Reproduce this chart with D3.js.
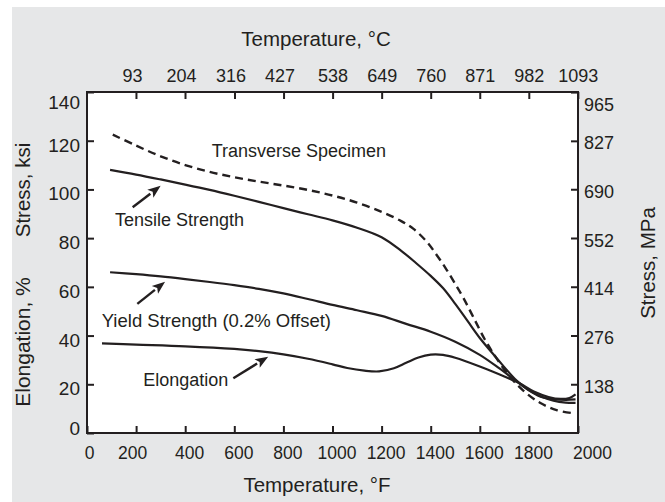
<!DOCTYPE html>
<html>
<head>
<meta charset="utf-8">
<script src="https://cdn.jsdelivr.net/npm/d3@7"></script>
<style>
  html, body { margin: 0; padding: 0; background: #ffffff; }
  svg { display: block; }
  text { font-family: "Liberation Sans", Arial, Helvetica, sans-serif; fill: #231f20; }
</style>
</head>
<body>
<svg id="chart" width="665" height="502"></svg>
<script>
// ---------------- data ----------------
const fahrenheitTicks = [0, 200, 400, 600, 800, 1000, 1200, 1400, 1600, 1800, 2000];
const celsiusTicks = [93, 204, 316, 427, 538, 649, 760, 871, 982, 1093];
const ksiTicks = [0, 20, 40, 60, 80, 100, 120, 140];
const mpaTicks = [138, 276, 414, 552, 690, 827, 965];

// [temperature °F, value]  (stress in ksi, elongation in %)
const transverse = [[105,122.5],[200,118],[300,113.6],[400,110],[500,107.2],[600,105],[700,103.2],[800,101.6],[900,99.8],[1000,97.5],[1100,94.6],[1200,90.8],[1280,87],[1330,83.8],[1384,78.5],[1425,73],[1465,67],[1500,61.2],[1533,55.5],[1574,47.5],[1620,38.5],[1669,30.5],[1720,23.5],[1776,17.5],[1845,12.4],[1913,9.4],[1980,8.1]];
const tensile = [[94,108],[200,106.1],[300,104.1],[400,102],[500,99.8],[600,97.4],[700,94.9],[800,92.3],[900,89.8],[1000,87.3],[1100,84.3],[1200,80.4],[1280,74.8],[1340,69.8],[1400,64.5],[1450,59.5],[1500,53],[1550,46],[1600,39],[1669,30.7],[1750,21.5],[1800,17.5],[1845,15],[1900,13.9],[1950,13.6],[1990,13.8]];
const yieldStr = [[94,66],[200,65.2],[300,64.3],[400,63.2],[500,62],[600,60.7],[700,59.2],[800,57.3],[900,55],[1000,52.6],[1100,50.4],[1200,48.1],[1300,44.8],[1400,41.6],[1500,37.5],[1600,32.1],[1680,26.5],[1750,21.2],[1800,17.6],[1850,15],[1900,13.3],[1950,12.5],[1990,12.4]];
const elongation = [[61,36.8],[200,36.3],[400,35.6],[600,34.5],[700,33.6],[800,32.3],[900,30.5],[1000,28.2],[1060,26.7],[1130,25.6],[1190,25.3],[1250,26.6],[1300,28.8],[1350,31],[1400,32.2],[1450,32.1],[1500,30.9],[1600,27.3],[1700,23.2],[1760,20.5],[1820,17],[1880,14.8],[1930,14],[1965,14.4],[1990,15.9]];

// annotations: text start / baseline and arrow tail -> head, in data units (°F, ksi)
const labelTexts = ["Transverse Specimen", "Tensile Strength", "Yield Strength (0.2% Offset)", "Elongation"];
const labelAt = [[508, 113.5], [114, 84.8], [60, 43.7], [229, 19.5]];
const arrowTails = [[186, 92.7], [205, 53], [596, 22.5]];
const arrowHeads = [[300, 101.5], [318, 62.1], [738, 31.3]];

// ---------------- layout ----------------
const ink = "#231f20";
const L = 87, R = 578, T = 92, B = 433;
const svg = d3.select("#chart");

svg.append("rect").attr("x", 12).attr("y", 7).attr("width", 665 - 12).attr("height", 502 - 7).attr("fill", "#e6e7e8");
svg.append("rect").attr("x", L).attr("y", T).attr("width", R - L).attr("height", B - T).attr("fill", "#ffffff");

const x = d3.scaleLinear().domain([0, 2000]).range([L, R]);
const xC = d3.scaleLinear().domain([(0 - 32) * 5 / 9, (2000 - 32) * 5 / 9]).range([L, R]);
const y = d3.scaleLinear().domain([0, 140]).range([B, T]);
const yM = d3.scaleLinear().domain([0, 140 * 6.8948]).range([B, T]);

function styleAxis(g) {
  g.select(".domain").remove();
  g.selectAll(".tick line").attr("stroke", ink).attr("stroke-width", 2);
}

// bottom axis (°F)
const gB = svg.append("g").attr("transform", `translate(0,${B})`)
  .call(d3.axisBottom(x).tickValues(fahrenheitTicks).tickSizeInner(-7).tickSizeOuter(0).tickPadding(14).tickFormat(d3.format("d")));
styleAxis(gB);
gB.selectAll(".tick text").attr("font-size", 17.5).attr("fill", ink)
  .attr("dx", d => d === 2000 ? 14 : (d === 200 ? -4 : (d === 0 ? 2 : 4)));

// top axis (°C)
const gT = svg.append("g").attr("transform", `translate(0,${T})`)
  .call(d3.axisTop(xC).tickValues(celsiusTicks).tickSizeInner(-7).tickSizeOuter(0).tickPadding(10).tickFormat(d3.format("d")));
styleAxis(gT);
gT.selectAll(".tick text").attr("font-size", 18).attr("fill", ink)
  .attr("dx", d => d < 538 ? -4 : 0);

// left axis (ksi)
const gL = svg.append("g").attr("transform", `translate(${L},0)`)
  .call(d3.axisLeft(y).tickValues(ksiTicks).tickSizeInner(-7).tickSizeOuter(0).tickPadding(7));
styleAxis(gL);
gL.selectAll(".tick text").attr("font-size", 19).attr("fill", ink)
  .attr("dy", d => d === 140 ? "0.85em" : (d === 0 ? "0.1em" : "0.55em"));

// right axis (MPa)
const gR = svg.append("g").attr("transform", `translate(${R},0)`)
  .call(d3.axisRight(yM).tickValues(mpaTicks).tickSizeInner(-7).tickSizeOuter(0).tickPadding(6).tickFormat(d3.format("d")));
styleAxis(gR);
gR.selectAll(".tick text").attr("font-size", 18).attr("fill", ink)
  .attr("dy", d => d === 965 ? "1.05em" : "0.45em");

// frame
svg.append("rect").attr("x", L).attr("y", T).attr("width", R - L).attr("height", B - T)
  .attr("fill", "none").attr("stroke", ink).attr("stroke-width", 2);

// axis titles
svg.append("text").attr("x", 316).attr("y", 39).attr("dy", "0.35em").attr("text-anchor", "middle")
  .attr("font-size", 20.5).text("Temperature, °C");
svg.append("text").attr("x", 317).attr("y", 485).attr("dy", "0.35em").attr("text-anchor", "middle")
  .attr("font-size", 20.5).text("Temperature, °F");
svg.append("text").attr("transform", "translate(23,190) rotate(-90)").attr("dy", "0.35em").attr("text-anchor", "middle")
  .attr("font-size", 20.5).text("Stress, ksi");
svg.append("text").attr("transform", "translate(23,342) rotate(-90)").attr("dy", "0.35em").attr("text-anchor", "middle")
  .attr("font-size", 21).text("Elongation, %");
svg.append("text").attr("transform", "translate(648,263) rotate(-90)").attr("dy", "0.35em").attr("text-anchor", "middle")
  .attr("font-size", 20.5).text("Stress, MPa");

// curves
const line = d3.line().x(d => x(d[0])).y(d => y(d[1])).curve(d3.curveCatmullRom.alpha(0.5));
const plot = svg.append("g");
plot.append("path").datum(transverse).attr("d", line).attr("fill", "none").attr("stroke", ink)
  .attr("stroke-width", 2.4).attr("stroke-dasharray", "8,5");
[tensile, yieldStr, elongation].forEach(s => {
  plot.append("path").datum(s).attr("d", line).attr("fill", "none").attr("stroke", ink).attr("stroke-width", 2.2);
});

// labels
labelTexts.forEach((t, i) => {
  svg.append("text").attr("x", x(labelAt[i][0])).attr("y", y(labelAt[i][1]))
    .attr("font-size", i === 2 ? 18.5 : 18).text(t);
});

// arrows
arrowTails.forEach((tail, i) => {
  const x0 = x(tail[0]), y0 = y(tail[1]);
  const x1 = x(arrowHeads[i][0]), y1 = y(arrowHeads[i][1]);
  const ang = Math.atan2(y1 - y0, x1 - x0);
  const hl = 13, hw = 5;
  const bx = x1 - hl * Math.cos(ang), by = y1 - hl * Math.sin(ang);
  svg.append("line").attr("x1", x0).attr("y1", y0).attr("x2", bx).attr("y2", by)
    .attr("stroke", ink).attr("stroke-width", 2.4);
  const pts = [
    [x1, y1],
    [bx + hw * Math.sin(ang), by - hw * Math.cos(ang)],
    [bx + 3 * Math.cos(ang), by + 3 * Math.sin(ang)],
    [bx - hw * Math.sin(ang), by + hw * Math.cos(ang)]
  ];
  svg.append("polygon").attr("points", pts.map(p => p.join(",")).join(" ")).attr("fill", ink);
});
</script>
</body>
</html>
